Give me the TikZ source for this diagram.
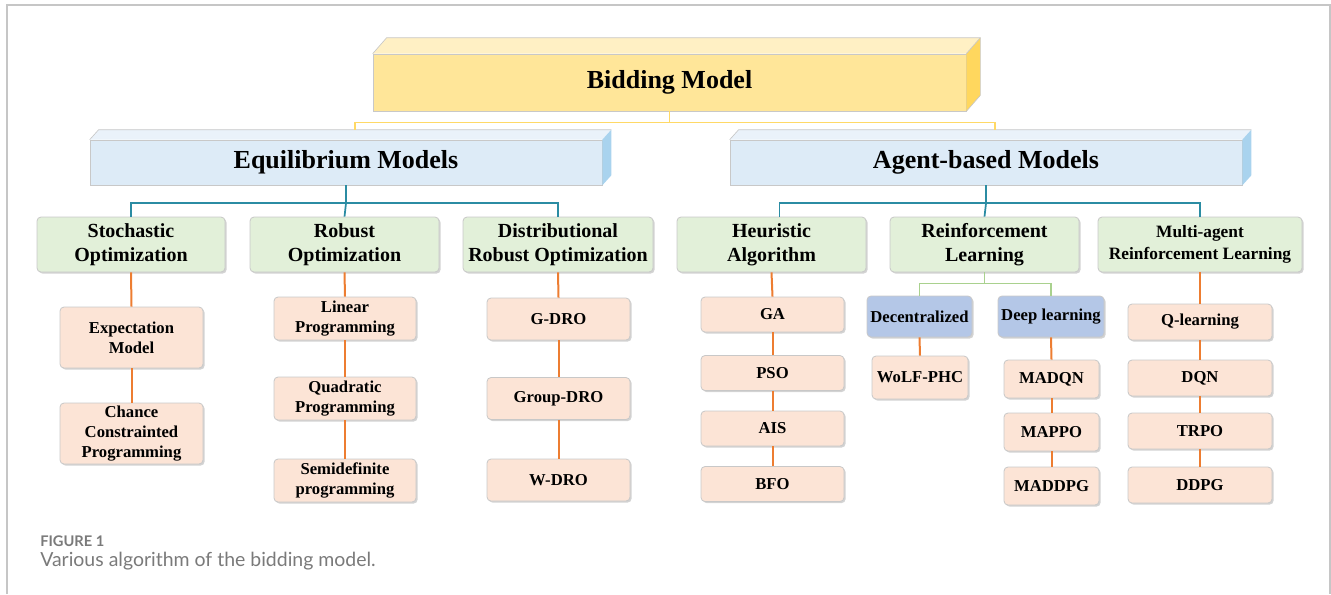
\documentclass[tikz,border=0pt]{standalone}
\usepackage{fontspec}
\setmainfont{Liberation Serif}
\newfontfamily\capfont{Lato}
\usetikzlibrary{shadows,calc}

\definecolor{yfront}{HTML}{FFE699}
\definecolor{ytop}{HTML}{FFF0C4}
\definecolor{yside}{HTML}{FFD75E}
\definecolor{bfront}{HTML}{DDEBF7}
\definecolor{btop}{HTML}{EAF2FA}
\definecolor{bside}{HTML}{A9D3EE}
\definecolor{gfill}{HTML}{E2F0D9}
\definecolor{ofill}{HTML}{FCE4D6}
\definecolor{bbox}{HTML}{B4C7E7}
\definecolor{edge}{HTML}{C8C8C8}
\definecolor{yline}{HTML}{FFD966}
\definecolor{tline}{HTML}{2B8CA3}
\definecolor{oline}{HTML}{ED7D31}
\definecolor{gline}{HTML}{A9D18E}
\definecolor{capgray}{HTML}{7A7A7A}

\tikzset{
  face/.style={draw=edge, line width=0.5pt},
  topbox/.style={face, fill=yfront, inner sep=0pt, font=\bfseries\fontsize{19.5}{22}\selectfont},
  catbox/.style={face, fill=bfront, inner sep=0pt, font=\bfseries\fontsize{19.5}{22}\selectfont},
  basebox/.style={draw=edge, line width=0.6pt, rounded corners=3pt, inner sep=0pt, align=center,
    drop shadow={opacity=0.35, shadow xshift=1.2pt, shadow yshift=-1.2pt}},
  lvltwo/.style={basebox, fill=gfill, font=\bfseries\fontsize{15}{18}\selectfont},
  leaf/.style={basebox, fill=ofill, font=\bfseries\fontsize{12.5}{15}\selectfont},
  rlbox/.style={basebox, fill=bbox, font=\bfseries\fontsize{12.5}{15}\selectfont},
  yconn/.style={color=yline, line width=1.2pt},
  tconn/.style={color=tline, line width=1.3pt},
  oconn/.style={color=oline, line width=1.5pt},
  gconn/.style={color=gline, line width=1.2pt},
}

\begin{document}
\begin{tikzpicture}[x=0.75pt, y=-0.75pt]
\useasboundingbox (0,0) rectangle (1331,594);

% outer frame
\draw[gray!45, line width=1pt] (7,594) -- (7,5) -- (1330,5) -- (1330,594);

% ---------- root block ----------
\node[topbox, minimum width=593*0.75pt, minimum height=57*0.75pt] (bm) at (669.5,82.5) {Bidding Model};
\fill[ytop] (bm.north west) -- ++(14,-16) -- ($(bm.north east)+(14,-16)$) -- (bm.north east) -- cycle;
\fill[yside] (bm.north east) -- ++(14,-16) -- ($(bm.south east)+(14,-16)$) -- (bm.south east) -- cycle;
\draw[edge, line width=0.5pt] (bm.north west) -- ++(14,-16) -- ($(bm.north east)+(14,-16)$) -- ($(bm.south east)+(14,-16)$) -- (bm.south east);
\draw[edge, line width=0.5pt] (bm.north east) -- ++(14,-16);

% ---------- category blocks ----------
\node[catbox, minimum width=512*0.75pt, minimum height=45*0.75pt] (eq) at (346,162.5) {Equilibrium Models};
\node[catbox, minimum width=512*0.75pt, minimum height=45*0.75pt] (ab) at (986,162.5) {Agent-based Models};
\foreach \n in {eq,ab}{
  \fill[btop] (\n.north west) -- ++(9,-10) -- ($(\n.north east)+(9,-10)$) -- (\n.north east) -- cycle;
  \fill[bside] (\n.north east) -- ++(9,-10) -- ($(\n.south east)+(9,-10)$) -- (\n.south east) -- cycle;
  \draw[edge, line width=0.5pt] (\n.north west) -- ++(9,-10) -- ($(\n.north east)+(9,-10)$);
}

\draw[yconn] (bm.south) -- ++(0,11) coordinate (ysplit) -| ($(eq.north)+(9,-10)$);
\draw[yconn] (ysplit) -| ($(ab.north)+(9,-10)$);

% ---------- second level ----------
\node[lvltwo, minimum width=188*0.75pt, minimum height=55*0.75pt] (so) at (131,244.5) {Stochastic\\Optimization};
\node[lvltwo, minimum width=189*0.75pt, minimum height=55*0.75pt] (ro) at (344.5,244.5) {Robust\\Optimization};
\node[lvltwo, minimum width=190*0.75pt, minimum height=55*0.75pt] (dro) at (558,244.5) {Distributional\\Robust Optimization};
\node[lvltwo, minimum width=189*0.75pt, minimum height=55*0.75pt] (ha) at (771.5,244.5) {Heuristic\\Algorithm};
\node[lvltwo, minimum width=189*0.75pt, minimum height=55*0.75pt] (rl) at (984.5,244.5) {Reinforcement\\Learning};
\node[lvltwo, minimum width=204*0.75pt, minimum height=55*0.75pt, font=\bfseries\fontsize{13}{17}\selectfont] (marl) at (1200,244.5) {Multi-agent\\Reinforcement Learning};

\draw[tconn] (eq.south) -- ++(0,18) coordinate (esplit) -| (so.north);
\draw[tconn] (esplit) -| (dro.north);
\draw[tconn] (esplit) -- (ro.north);
\draw[tconn] (ab.south) -- ++(0,18) coordinate (asplit) -| ($(ha.north)+(8,0)$);
\draw[tconn] (asplit) -| (marl.north);
\draw[tconn] (asplit) -- (rl.north);

% ---------- stochastic optimization ----------
\node[leaf, minimum width=143*0.75pt, minimum height=61*0.75pt] (em) at (131.5,337.5) {Expectation\\Model};
\node[leaf, minimum width=143*0.75pt, minimum height=61*0.75pt] (ccp) at (131.5,433.5) {Chance\\Constrainted\\Programming};

% ---------- robust optimization ----------
\node[leaf, minimum width=142*0.75pt, minimum height=43*0.75pt] (lp) at (345,318.5) {Linear\\Programming};
\node[leaf, minimum width=142*0.75pt, minimum height=43*0.75pt] (qp) at (345,398.5) {Quadratic\\Programming};
\node[leaf, minimum width=142*0.75pt, minimum height=43*0.75pt] (sdp) at (345,480.5) {Semidefinite\\programming};

% ---------- distributional robust optimization ----------
\node[leaf, minimum width=143*0.75pt, minimum height=42*0.75pt] (gd) at (558.5,319) {G-DRO};
\node[leaf, minimum width=143*0.75pt, minimum height=42*0.75pt] (grd) at (558.5,398.5) {Group-DRO};
\node[leaf, minimum width=143*0.75pt, minimum height=42*0.75pt] (wd) at (558.5,480) {W-DRO};

% ---------- heuristic algorithm ----------
\node[leaf, minimum width=143*0.75pt, minimum height=35*0.75pt] (ga) at (772.5,314.5) {GA};
\node[leaf, minimum width=143*0.75pt, minimum height=35*0.75pt] (pso) at (772.5,373) {PSO};
\node[leaf, minimum width=143*0.75pt, minimum height=35*0.75pt] (ais) at (772.5,428.5) {AIS};
\node[leaf, minimum width=143*0.75pt, minimum height=35*0.75pt] (bfo) at (772.5,484) {BFO};

% ---------- reinforcement learning ----------
\node[rlbox, minimum width=105*0.75pt, minimum height=41*0.75pt] (dec) at (919.5,316.5) {Decentralized};
\node[rlbox, minimum width=106*0.75pt, minimum height=41*0.75pt] (dl) at (1051,316.5) {Deep learning};
\node[leaf, minimum width=96*0.75pt, minimum height=43*0.75pt] (wolf) at (920,377.5) {WoLF-PHC};
\node[leaf, minimum width=95*0.75pt, minimum height=38*0.75pt] (madqn) at (1051.5,379) {MADQN};
\node[leaf, minimum width=95*0.75pt, minimum height=38*0.75pt] (mappo) at (1051.5,432) {MAPPO};
\node[leaf, minimum width=95*0.75pt, minimum height=38*0.75pt] (maddpg) at (1051.5,486) {MADDPG};

\draw[gconn] (rl.south) -- ++(0,11) coordinate (rsplit) -| (dec.north);
\draw[gconn] (rsplit) -| (dl.north);

% ---------- multi-agent reinforcement learning ----------
\node[leaf, minimum width=144*0.75pt, minimum height=36*0.75pt] (ql) at (1200,322) {Q-learning};
\node[leaf, minimum width=144*0.75pt, minimum height=36*0.75pt] (dqn) at (1200,378) {DQN};
\node[leaf, minimum width=144*0.75pt, minimum height=36*0.75pt] (trpo) at (1200,431) {TRPO};
\node[leaf, minimum width=144*0.75pt, minimum height=36*0.75pt] (ddpg) at (1200,485) {DDPG};

% ---------- orange chains ----------
\foreach \a/\b in {so/em, em/ccp, ro/lp, lp/qp, qp/sdp, dro/gd, gd/grd, grd/wd,
                   ha/ga, ga/pso, pso/ais, ais/bfo, dec/wolf, dl/madqn, madqn/mappo,
                   mappo/maddpg, marl/ql, ql/dqn, dqn/trpo, trpo/ddpg}
  \draw[oconn] (\a.south) -- (\b.north);

% ---------- caption ----------
\node[anchor=base west, inner sep=0pt, text=capgray, font=\capfont\bfseries\fontsize{11}{13}\selectfont] (fig) at (40,546) {FIGURE 1};
\node[anchor=base west, inner sep=0pt, text=capgray, font=\capfont\fontsize{14.6}{17}\selectfont] (cap) at (40,566) {Various algorithm of the bidding model.};
\end{tikzpicture}
\end{document}
